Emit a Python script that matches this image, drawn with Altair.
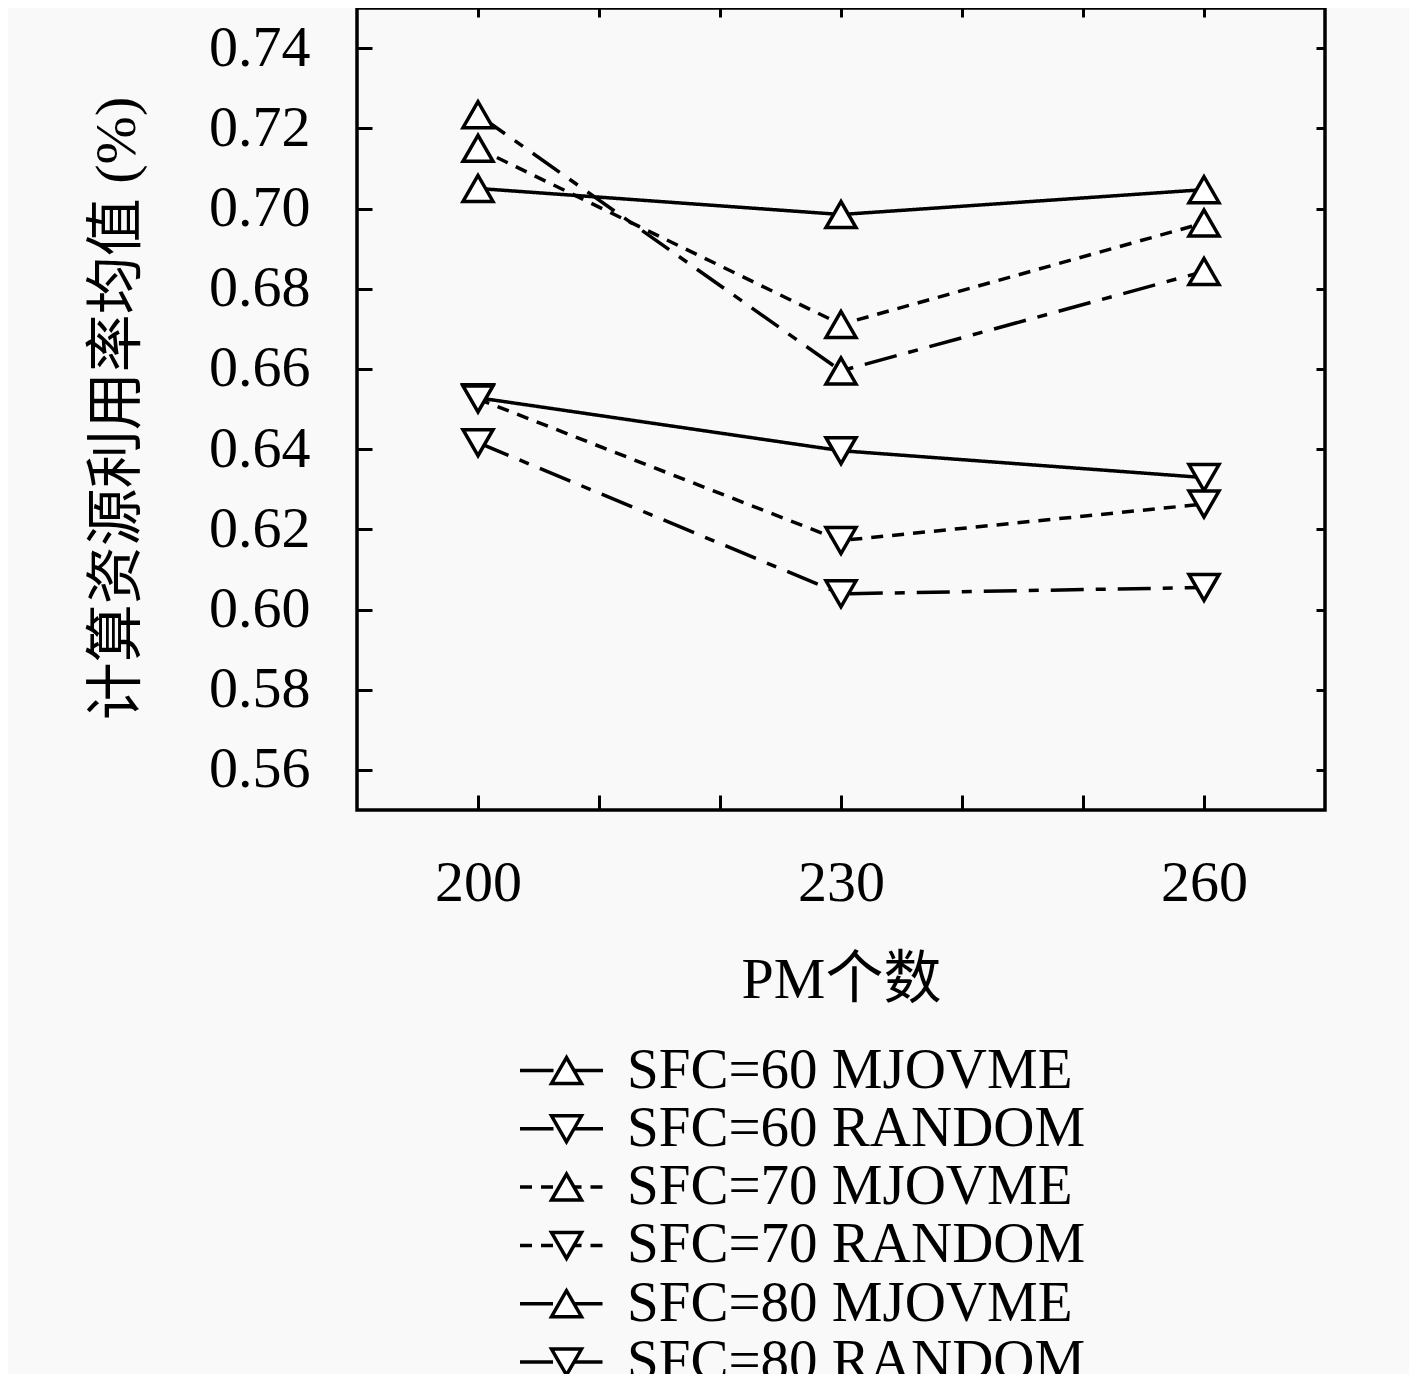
import altair as alt
import pandas as pd

# x positions (number of PMs)
pm_counts = [200, 230, 260]

series_names = [
    "SFC=60 MJOVME",
    "SFC=60 RANDOM",
    "SFC=70 MJOVME",
    "SFC=70 RANDOM",
    "SFC=80 MJOVME",
    "SFC=80 RANDOM",
]

# mean compute-resource utilisation
sfc60_mjovme = [0.7050, 0.6985, 0.7047]
sfc60_random = [0.6528, 0.6396, 0.6329]
sfc70_mjovme = [0.7150, 0.6711, 0.6964]
sfc70_random = [0.6525, 0.6172, 0.6263]
sfc80_mjovme = [0.7234, 0.6595, 0.6843]
sfc80_random = [0.6416, 0.6039, 0.6055]

x_ticks = [200, 210, 220, 230, 240, 250, 260]
y_ticks = [0.56, 0.58, 0.60, 0.62, 0.64, 0.66, 0.68, 0.70, 0.72, 0.74]

dash_patterns = [[1, 0], [1, 0], [12, 9], [12, 9], [33, 12, 10, 12], [33, 12, 10, 12]]
marker_shapes = ["triangle-up", "triangle-down"] * 3
marker_colors = ["black"] * 6

all_values = [sfc60_mjovme, sfc60_random, sfc70_mjovme,
              sfc70_random, sfc80_mjovme, sfc80_random]

records = []
for name, vals in zip(series_names, all_values):
    for pm, v in zip(pm_counts, vals):
        records.append({"pm": pm, "value": v, "series": name, "marker": name})
df = pd.DataFrame(records)

SERIF = "Liberation Serif, Noto Sans CJK SC"

x_scale = alt.Scale(domain=[190, 270], nice=False, zero=False)
y_scale = alt.Scale(domain=[0.55, 0.75], nice=False, zero=False)

x_bottom = alt.Axis(
    values=x_ticks,
    labelExpr="datum.value % 30 == 20 ? datum.label : ''",
    orient="bottom", offset=-15, tickSize=15, tickWidth=3, tickColor="black",
    domain=False, grid=False, labelFont=SERIF, labelFontSize=58, labelColor="black",
    labelPadding=44, labelFlush=False,
    titleFont=SERIF, titleFontSize=58, titleFontWeight="normal", titleColor="black",
    titleY=185, titleBaseline="middle",
)
y_left = alt.Axis(
    values=y_ticks, format=".2f",
    orient="left", offset=-15, tickSize=15, tickWidth=3, tickColor="black",
    domain=False, grid=False, labelFont=SERIF, labelFontSize=58, labelColor="black",
    labelPadding=47, labelFlush=False,
    titleFont=SERIF, titleFontSize=58, titleFontWeight="normal", titleColor="black",
    titleAngle=270, titleX=-255, titleY=400, titleAlign="center", titleBaseline="middle",
)
x_top = alt.Axis(values=x_ticks, orient="top", offset=-9, tickSize=9, tickWidth=3,
                 tickColor="black", domain=False, grid=False, labels=False, title=None)
y_right = alt.Axis(values=y_ticks, orient="right", offset=-9, tickSize=9, tickWidth=3,
                   tickColor="black", domain=False, grid=False, labels=False, title=None)

line_legend = alt.Legend(
    orient="none", legendX=176, legendY=1034, title=None, padding=0,
    symbolType="M-2.075,0H-0.4M0.4,0H2.075", symbolSize=1600,
    symbolStrokeColor="black", symbolStrokeWidth=3.5, symbolOpacity=1,
    labelFont=SERIF, labelFontSize=57, labelColor="black", labelLimit=0,
    labelOffset=37, rowPadding=0.3,
)
shape_legend = alt.Legend(
    orient="none", legendX=181, legendY=1034, title=None, padding=0,
    symbolSize=900, symbolStrokeWidth=3.5, symbolOpacity=1, symbolFillColor="white",
    labelFont=SERIF, labelFontSize=57, labelExpr="''", labelLimit=0,
    labelOffset=37, rowPadding=0.3,
)

base = alt.Chart(df)

lines = base.mark_line(strokeWidth=3.5, color="black").encode(
    x=alt.X("pm:Q", scale=x_scale, axis=x_bottom, title="PM个数"),
    y=alt.Y("value:Q", scale=y_scale, axis=y_left, title="计算资源利用率均值 (%)"),
    strokeDash=alt.StrokeDash("series:N",
                              scale=alt.Scale(domain=series_names, range=dash_patterns),
                              legend=line_legend),
)

points = base.mark_point(filled=False, fill="white", strokeWidth=3.5,
                         size=900, opacity=1).encode(
    x=alt.X("pm:Q", axis=x_top),
    y=alt.Y("value:Q", axis=y_right),
    shape=alt.Shape("marker:N", scale=alt.Scale(range=marker_shapes), legend=shape_legend),
    stroke=alt.Stroke("marker:N", scale=alt.Scale(range=marker_colors), legend=shape_legend),
)

chart = alt.layer(lines, points).resolve_axis(
    x="independent", y="independent"
).resolve_legend(
    shape="independent", strokeDash="independent", stroke="independent"
).properties(
    width=968,
    height=802,
    autosize=alt.AutoSizeParams(type="none"),
    padding={"left": 349, "top": 0, "right": 84, "bottom": 564},
    background="#f9f9f9",
).configure_view(
    stroke="black", strokeWidth=3.5, fill="#f9f9f9"
)

chart.save("out.html", embed_options={"renderer": "svg", "actions": False})
